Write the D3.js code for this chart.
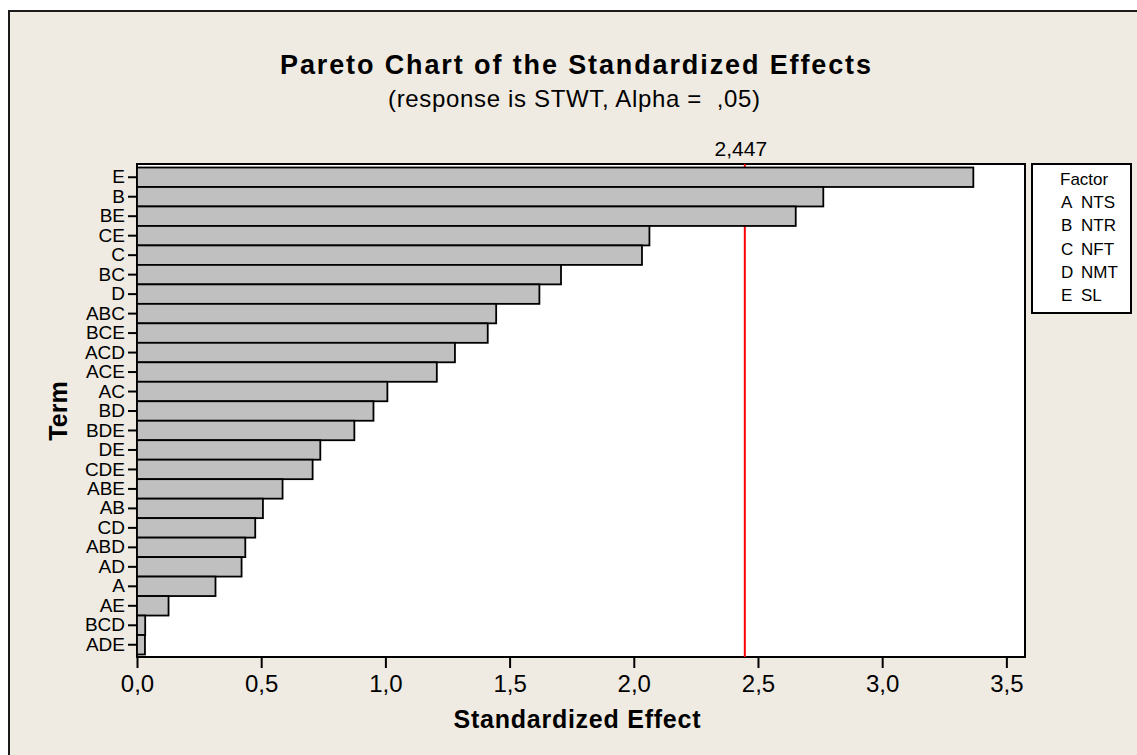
<!DOCTYPE html>
<html>
<head>
<meta charset="utf-8">
<script src="https://cdn.jsdelivr.net/npm/d3@7"></script>
<style>
  html, body { margin: 0; padding: 0; background: #ffffff; }
  svg { display: block; font-family: "Liberation Sans", Arial, sans-serif; }
</style>
</head>
<body>
<svg id="chart" width="1137" height="755"></svg>
<script>
// Terms ordered by absolute standardized effect (largest first)
const terms = ["E","B","BE","CE","C","BC","D","ABC","BCE","ACD","ACE","AC","BD","BDE","DE","CDE","ABE","AB","CD","ABD","AD","A","AE","BCD","ADE"];
const effects = [3.367, 2.763, 2.652, 2.063, 2.033, 1.707, 1.620, 1.446, 1.412, 1.280, 1.207, 1.008, 0.952, 0.875, 0.738, 0.707, 0.586, 0.507, 0.476, 0.436, 0.421, 0.316, 0.127, 0.033, 0.032];
const xTicks = [0, 0.5, 1.0, 1.5, 2.0, 2.5, 3.0, 3.5];
const criticalValue = 2.447;
const factorLetters = ["A","B","C","D","E"];
const factorNames = ["NTS","NTR","NFT","NMT","SL"];

const svg = d3.select("#chart");
const comma = v => d3.format(".1f")(v).replace(".", ",");

// Outer frame
svg.append("rect")
  .attr("x", 9).attr("y", 11).attr("width", 1140).attr("height", 760)
  .attr("fill", "#efebe2").attr("stroke", "#1a1a1a").attr("stroke-width", 2);

const plot = { left: 137, right: 1025, top: 164, bottom: 657 };

const x = d3.scaleLinear().domain([0, 3.575]).range([plot.left, plot.right]);
const y = d3.scaleBand().domain(terms).range([167.5, 654.5]).paddingInner(0).paddingOuter(0);

// Plot area
svg.append("rect")
  .attr("x", plot.left).attr("y", plot.top)
  .attr("width", plot.right - plot.left).attr("height", plot.bottom - plot.top)
  .attr("fill", "#ffffff").attr("stroke", "#000").attr("stroke-width", 2);

// Reference line at the critical t value
svg.append("line")
  .attr("x1", x(criticalValue)).attr("x2", x(criticalValue))
  .attr("y1", plot.top).attr("y2", plot.bottom)
  .attr("stroke", "#ff0000").attr("stroke-width", 2);

// Bars
svg.append("g").selectAll("rect")
  .data(terms.map((t, i) => ({ term: t, value: effects[i] })))
  .join("rect")
  .attr("x", x(0))
  .attr("y", d => y(d.term))
  .attr("width", d => x(d.value) - x(0))
  .attr("height", y.bandwidth())
  .attr("fill", "#c0c0c0")
  .attr("stroke", "#000")
  .attr("stroke-width", 1.8);

// Critical value label
svg.append("text")
  .attr("x", x(criticalValue) - 4).attr("y", 156)
  .attr("text-anchor", "middle")
  .attr("font-size", 21)
  .attr("fill", "#000")
  .text(criticalValue.toString().replace(".", ","));

// X axis
const xAxis = svg.append("g")
  .attr("transform", `translate(0,${plot.bottom})`)
  .call(d3.axisBottom(x).tickValues(xTicks).tickFormat(comma).tickSize(11).tickPadding(7));
xAxis.select(".domain").remove();
xAxis.selectAll(".tick line").attr("stroke", "#000").attr("stroke-width", 2);
xAxis.selectAll(".tick text")
  .attr("font-size", 24).attr("font-family", "Liberation Sans, Arial, sans-serif").attr("fill", "#000");

// Y axis
const yAxis = svg.append("g")
  .attr("transform", `translate(${plot.left},0)`)
  .call(d3.axisLeft(y).tickSize(9).tickPadding(3));
yAxis.select(".domain").remove();
yAxis.selectAll(".tick line").attr("stroke", "#000").attr("stroke-width", 2);
yAxis.selectAll(".tick text")
  .attr("font-size", 19).attr("font-family", "Liberation Sans, Arial, sans-serif").attr("fill", "#000");

// Titles
svg.append("text")
  .attr("x", 575.5).attr("y", 74)
  .attr("text-anchor", "middle")
  .attr("font-size", 27).attr("font-weight", "bold")
  .attr("textLength", 591).attr("lengthAdjust", "spacing")
  .text("Pareto Chart of the Standardized Effects");

svg.append("text")
  .attr("x", 574).attr("y", 107)
  .attr("text-anchor", "middle")
  .attr("font-size", 24)
  .style("white-space", "pre")
  .attr("textLength", 372).attr("lengthAdjust", "spacing")
  .text("(response is STWT, Alpha =  ,05)");

svg.append("text")
  .attr("x", 577).attr("y", 728)
  .attr("text-anchor", "middle")
  .attr("font-size", 25).attr("font-weight", "bold")
  .attr("textLength", 247).attr("lengthAdjust", "spacing")
  .text("Standardized Effect");

svg.append("text")
  .attr("transform", "translate(67,411) rotate(-90)")
  .attr("text-anchor", "middle")
  .attr("font-size", 25).attr("font-weight", "bold")
  .text("Term");

// Legend
const legend = svg.append("g");
legend.append("rect")
  .attr("x", 1032).attr("y", 164).attr("width", 99).attr("height", 149)
  .attr("fill", "#ffffff").attr("stroke", "#000").attr("stroke-width", 2);
legend.append("text")
  .attr("x", 1060).attr("y", 185)
  .attr("font-size", 17)
  .text("Factor");
const rows = legend.selectAll("g.row")
  .data(factorLetters.map((l, i) => ({ letter: l, name: factorNames[i], i })))
  .join("g").attr("class", "row")
  .attr("transform", d => `translate(0,${208 + d.i * 23.3})`);
rows.append("text").attr("x", 1061).attr("font-size", 17).text(d => d.letter);
rows.append("text").attr("x", 1081).attr("font-size", 17).text(d => d.name);
</script>
</body>
</html>
